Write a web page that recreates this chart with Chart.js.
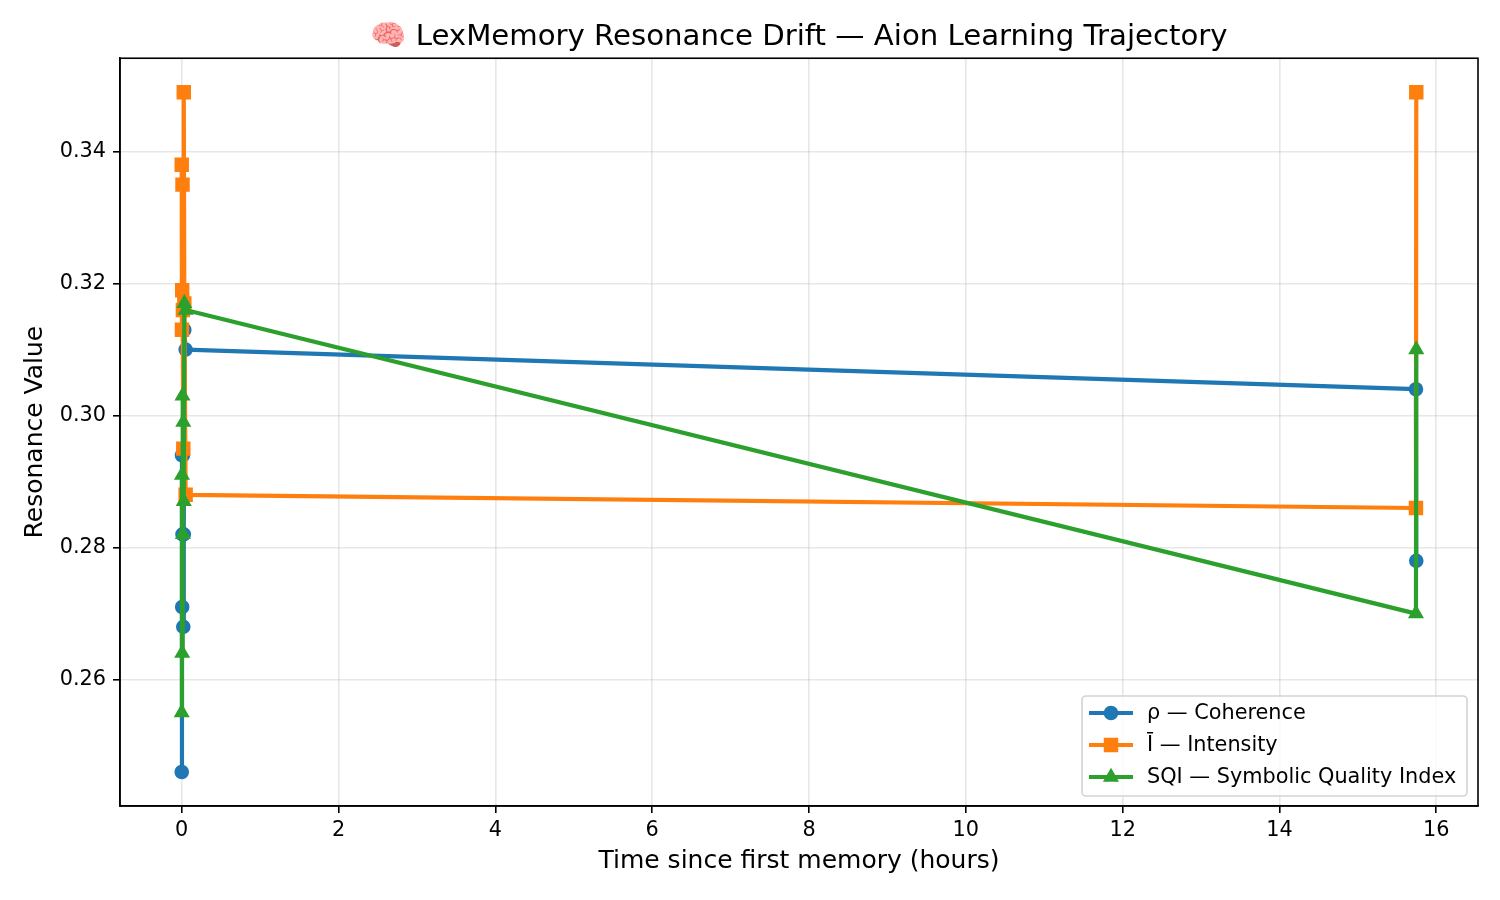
<!DOCTYPE html>
<html lang="en">
<head>
    <meta charset="UTF-8">
    <title>LexMemory Resonance Drift</title>
    <script src="https://cdn.jsdelivr.net/npm/chart.js"></script>
    <style>
        html, body { margin: 0; padding: 0; background: #ffffff; }
        #wrap { width: 1500px; height: 900px; }
    </style>
</head>
<body>
    <div id="wrap"><canvas id="driftChart"></canvas></div>
    <script>
        // hours since first memory, one entry per memory snapshot
        const hours     = [0.000, 0.003, 0.006, 0.010, 0.015, 0.020, 0.026, 0.033, 0.050, 15.741, 15.745];
        const coherence = [0.246, 0.294, 0.271, 0.282, 0.294, 0.268, 0.282, 0.313, 0.310, 0.304, 0.278];
        const intensity = [0.338, 0.313, 0.319, 0.335, 0.316, 0.295, 0.349, 0.317, 0.288, 0.286, 0.349];
        const sqi       = [0.255, 0.291, 0.264, 0.303, 0.282, 0.299, 0.287, 0.317, 0.316, 0.270, 0.310];

        const seriesNames = ['ρ — Coherence', 'Ī — Intensity', 'SQI — Symbolic Quality Index'];
        const xTicks = [0, 2, 4, 6, 8, 10, 12, 14, 16];
        const yTicks = [0.26, 0.28, 0.30, 0.32, 0.34];

        const FONT = '"DejaVu Sans", sans-serif';
        Chart.defaults.font.family = FONT;
        Chart.defaults.color = '#000';

        // matplotlib-like 5% margins
        const xPad = (Math.max(...hours) - Math.min(...hours)) * 0.05;
        const allY = coherence.concat(intensity, sqi);
        const yPad = (Math.max(...allY) - Math.min(...allY)) * 0.05;

        const styles = [
            { color: '#1f77b4', pointStyle: 'circle',   radius: 6.3 },
            { color: '#ff7f0e', pointStyle: 'rect',     radius: 8.8 },
            { color: '#2ca02c', pointStyle: 'triangle', radius: 7.3 }
        ];

        function makeSet(i, values, order) {
            const s = styles[i];
            return {
                label: seriesNames[i],
                data: hours.map((h, k) => ({ x: h, y: values[k] })),
                borderColor: s.color,
                backgroundColor: s.color,
                borderWidth: 4.2,
                borderJoinStyle: 'round',
                pointStyle: s.pointStyle,
                pointRadius: s.radius,
                pointBorderWidth: 2,
                pointBorderColor: s.color,
                pointBackgroundColor: s.color,
                tension: 0,
                order: order
            };
        }

        function drawMarker(ctx, style, x, y) {
            const r = style.radius;
            ctx.beginPath();
            if (style.pointStyle === 'circle') {
                ctx.arc(x, y, r, 0, Math.PI * 2);
            } else if (style.pointStyle === 'rect') {
                const h = r * Math.SQRT1_2;
                ctx.rect(x - h, y - h, 2 * h, 2 * h);
            } else {
                const a = Math.PI * 2 / 3;
                ctx.moveTo(x, y - r);
                ctx.lineTo(x + Math.sin(a) * r, y - Math.cos(a) * r);
                ctx.lineTo(x + Math.sin(2 * a) * r, y - Math.cos(2 * a) * r);
                ctx.closePath();
            }
            ctx.fillStyle = style.color;
            ctx.strokeStyle = style.color;
            ctx.lineWidth = 2;
            ctx.fill();
            ctx.stroke();
        }

        // top and right spines, like a matplotlib axes box
        const frameBox = {
            id: 'frameBox',
            afterDatasetsDraw(chart) {
                const { ctx, chartArea: a } = chart;
                ctx.save();
                ctx.strokeStyle = '#000';
                ctx.lineWidth = 1.6;
                ctx.strokeRect(a.left, a.top, a.right - a.left, a.bottom - a.top);
                ctx.restore();
            }
        };

        // legend in the lower right corner of the plot area
        const legendInside = {
            id: 'legendInside',
            afterDraw(chart) {
                const { ctx, chartArea: a } = chart;
                const w = 385, h = 100;
                const x0 = a.right - 11 - w, y0 = a.bottom - 10 - h;
                ctx.save();
                ctx.beginPath();
                ctx.roundRect(x0, y0, w, h, 4);
                ctx.fillStyle = 'rgba(255,255,255,0.8)';
                ctx.fill();
                ctx.strokeStyle = '#d3d3d3';
                ctx.lineWidth = 1.6;
                ctx.stroke();
                ctx.font = '20.8px ' + FONT;
                ctx.textBaseline = 'middle';
                seriesNames.forEach((name, i) => {
                    const cy = y0 + 17 + i * 32;
                    const s = styles[i];
                    ctx.beginPath();
                    ctx.moveTo(x0 + 7, cy);
                    ctx.lineTo(x0 + 51, cy);
                    ctx.strokeStyle = s.color;
                    ctx.lineWidth = 4.2;
                    ctx.stroke();
                    drawMarker(ctx, s, x0 + 29, cy);
                    ctx.fillStyle = '#000';
                    ctx.fillText(name, x0 + 65, cy + 1);
                });
                ctx.restore();
            }
        };

        const gridOpts = {
            color: 'rgba(176,176,176,0.3)',
            lineWidth: 1.6,
            tickColor: '#000',
            tickLength: 7,
            tickWidth: 1.6
        };

        new Chart(document.getElementById('driftChart'), {
            type: 'line',
            data: {
                datasets: [
                    makeSet(0, coherence, 2),
                    makeSet(1, intensity, 1),
                    makeSet(2, sqi, 0)
                ]
            },
            options: {
                responsive: true,
                maintainAspectRatio: false,
                animation: false,
                layout: { padding: { left: 0, right: 22, top: 0, bottom: 0 } },
                plugins: {
                    legend: { display: false },
                    tooltip: { enabled: false },
                    title: {
                        display: true,
                        fullSize: false,
                        text: '🧠 LexMemory Resonance Drift — Aion Learning Trajectory',
                        color: '#000',
                        font: { size: 29.2, weight: 'normal' },
                        padding: { top: 19.6, bottom: 3.6 }
                    }
                },
                scales: {
                    x: {
                        type: 'linear',
                        min: Math.min(...hours) - xPad,
                        max: Math.max(...hours) + xPad,
                        afterBuildTicks: s => { s.ticks = xTicks.map(v => ({ value: v })); },
                        afterFit: s => { s.height = 94; s.paddingLeft = 0; s.paddingRight = 0; },
                        ticks: { font: { size: 20.8 }, padding: 5, maxRotation: 0, autoSkip: false, callback: v => String(v) },
                        grid: gridOpts,
                        border: { color: '#000', width: 1.6 },
                        title: { display: true, text: 'Time since first memory (hours)', font: { size: 25 }, padding: { top: 0, bottom: 24 } }
                    },
                    y: {
                        min: Math.min(...allY) - yPad,
                        max: Math.max(...allY) + yPad,
                        afterBuildTicks: s => { s.ticks = yTicks.map(v => ({ value: v })); },
                        afterFit: s => { s.width = 120; s.paddingTop = 0; s.paddingBottom = 0; },
                        ticks: { font: { size: 20.8 }, padding: 7, autoSkip: false, callback: v => v.toFixed(2) },
                        grid: gridOpts,
                        border: { color: '#000', width: 1.6 },
                        title: { display: true, text: 'Resonance Value', font: { size: 25 }, padding: { top: 20, bottom: 0 } }
                    }
                }
            },
            plugins: [frameBox, legendInside]
        });
    </script>
</body>
</html>
